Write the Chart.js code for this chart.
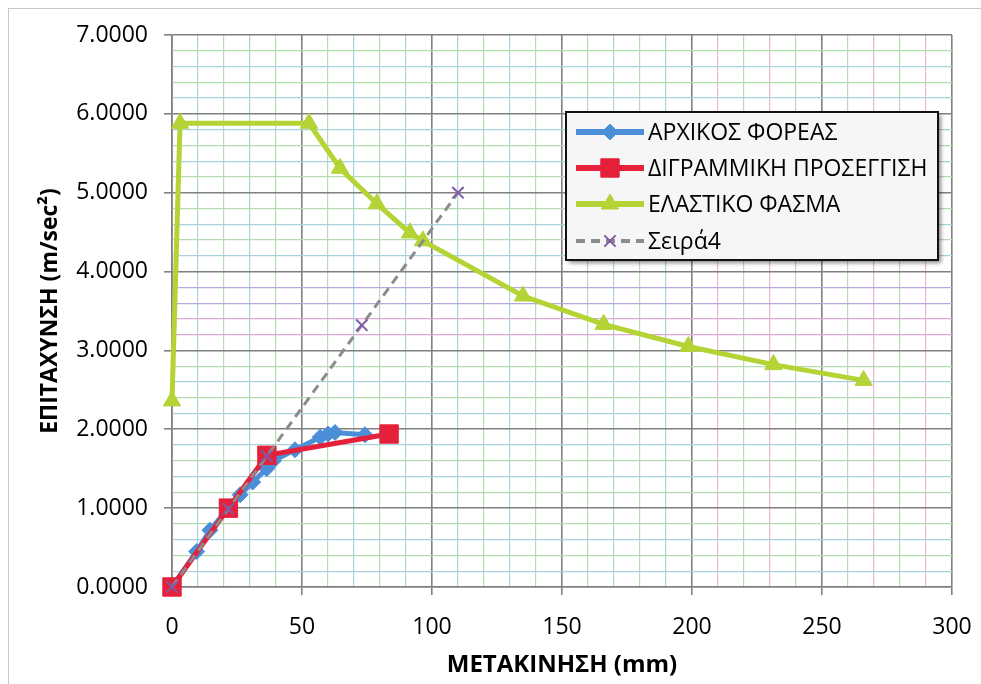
<!DOCTYPE html>
<html>
<head>
<meta charset="utf-8">
<script src="https://cdn.jsdelivr.net/npm/chart.js@4.4.1/dist/chart.umd.min.js"></script>
<style>
  html, body { margin: 0; padding: 0; background: #ffffff; }
  #wrap { position: relative; width: 981px; height: 684px; }
  canvas { display: block; }
</style>
</head>
<body>
<div id="wrap"><canvas id="chart" width="981" height="684"></canvas></div>
<script>
// Series data
const originalX = [0, 9.5, 14.6, 21.7, 26.2, 31, 36.4, 39, 47.3, 57, 60, 62.7, 74.2];
const originalY = [0, 0.45, 0.72, 1.0, 1.17, 1.33, 1.5, 1.6, 1.74, 1.9, 1.94, 1.96, 1.93];

const bilinearX = [0, 21.7, 36.5, 83.5];
const bilinearY = [0, 1.0, 1.67, 1.94];

const elasticX = [0, 3.1, 52.7, 64.6, 78.8, 91.5, 96.5, 135, 166, 198.6, 231.3, 266];
const elasticY = [2.36, 5.88, 5.88, 5.31, 4.86, 4.49, 4.39, 3.69, 3.33, 3.05, 2.82, 2.62];

const series4X = [0, 21.7, 36.5, 73, 110];
const series4Y = [0, 0.99, 1.66, 3.32, 5.0];

const seriesNames = ["ΑΡΧΙΚΟΣ ΦΟΡΕΑΣ", "ΔΙΓΡΑΜΜΙΚΗ ΠΡΟΣΕΓΓΙΣΗ", "ΕΛΑΣΤΙΚΟ ΦΑΣΜΑ", "Σειρά4"];

const xTitle = "ΜΕΤΑΚΙΝΗΣΗ (mm)";
const yTitle = "ΕΠΙΤΑΧΥΝΣΗ (m/sec²)";

const FONT = "'Open Sans', 'Noto Sans', sans-serif";

function toPoints(xs, ys) {
  return xs.map((x, i) => ({ x: x, y: ys[i] }));
}

function isMajorX(v) {
  return Math.abs(v % 50) < 1e-6;
}
function isMajorY(v) {
  return Math.abs(v - Math.round(v)) < 1e-6;
}

// minor grid colours (scanned paper look)
function minorXColor(v) {
  const k = Math.round(v / 10);
  if (v > 200 && v < 300 && k % 2 === 1) return "#e2b8dc";
  return k % 2 === 0 ? "#b9dcb4" : "#a8d3df";
}
function minorYColor(v) {
  const k = Math.round(v * 5);
  if (v > 3.1 && v < 3.5) return "#d9a9d6";
  if (v > 3.5 && v < 3.9) return "#b7a9e0";
  return k % 2 === 0 ? "#b5dbb0" : "#a9d1de";
}

// Legend drawn inside the plot, Excel style
const insideLegend = {
  id: "insideLegend",
  afterDraw(chart) {
    const ctx = chart.ctx;
    const box = { x: 566, y: 112, w: 372, h: 148 };
    ctx.save();
    ctx.shadowColor = "rgba(0,0,0,0.45)";
    ctx.shadowBlur = 4;
    ctx.shadowOffsetX = 3;
    ctx.shadowOffsetY = 3;
    ctx.fillStyle = "#f6f6f6";
    ctx.fillRect(box.x, box.y, box.w, box.h);
    ctx.restore();

    ctx.save();
    ctx.strokeStyle = "#111111";
    ctx.lineWidth = 2;
    ctx.strokeRect(box.x, box.y, box.w, box.h);

    const rows = [132, 168, 204, 241];
    chart.data.datasets.forEach((ds, i) => {
      const y = rows[i];
      ctx.save();
      ctx.strokeStyle = ds.borderColor;
      ctx.lineWidth = ds.borderWidth + 1;
      ctx.setLineDash(ds.borderDash || []);
      ctx.beginPath();
      ctx.moveTo(576, y);
      ctx.lineTo(644, y);
      ctx.stroke();
      ctx.restore();

      ctx.save();
      ctx.fillStyle = ds.pointBackgroundColor;
      ctx.strokeStyle = ds.pointBorderColor;
      ctx.lineWidth = ds.pointBorderWidth;
      Chart.helpers.drawPoint(ctx, {
        pointStyle: ds.pointStyle,
        radius: ds.legendRadius,
        rotation: 0,
        borderWidth: ds.pointBorderWidth
      }, 610, y);
      ctx.restore();

      ctx.fillStyle = "#000000";
      ctx.font = "23px " + FONT;
      ctx.textBaseline = "middle";
      ctx.textAlign = "left";
      ctx.fillText(ds.label, 648, y + 1);
    });
    ctx.restore();
  }
};

// light frame of the chart object
const frame = {
  id: "frame",
  beforeDraw(chart) {
    const ctx = chart.ctx;
    ctx.save();
    ctx.fillStyle = "#ffffff";
    ctx.fillRect(0, 0, chart.width, chart.height);
    ctx.strokeStyle = "#c8c8c8";
    ctx.lineWidth = 1;
    ctx.strokeRect(8.5, 8.5, 1200, 1200);
    ctx.restore();
  }
};

const ctx = document.getElementById("chart").getContext("2d");

new Chart(ctx, {
  type: "scatter",
  data: {
    datasets: [
      {
        label: seriesNames[0],
        data: toPoints(originalX, originalY),
        showLine: true,
        clip: false,
        borderColor: "#4a8fd8",
        borderWidth: 5,
        pointStyle: "rectRot",
        pointRadius: 8,
        legendRadius: 8,
        pointBackgroundColor: "#4a8fd8",
        pointBorderColor: "#4a8fd8",
        pointBorderWidth: 1,
        order: 3
      },
      {
        label: seriesNames[1],
        data: toPoints(bilinearX, bilinearY),
        showLine: true,
        clip: false,
        borderColor: "#e5203a",
        borderWidth: 5,
        pointStyle: "rect",
        pointRadius: 13,
        legendRadius: 13,
        pointBackgroundColor: "#e5203a",
        pointBorderColor: "#e5203a",
        pointBorderWidth: 1,
        order: 1
      },
      {
        label: seriesNames[2],
        data: toPoints(elasticX, elasticY),
        showLine: true,
        clip: false,
        borderColor: "#b4d334",
        borderWidth: 5,
        pointStyle: "triangle",
        pointRadius: 10,
        legendRadius: 10,
        pointBackgroundColor: "#b4d334",
        pointBorderColor: "#b4d334",
        pointBorderWidth: 1,
        order: 2
      },
      {
        label: seriesNames[3],
        data: toPoints(series4X, series4Y),
        showLine: true,
        clip: false,
        borderColor: "#8c8c8c",
        borderWidth: 3,
        borderDash: [9, 6],
        pointStyle: "crossRot",
        pointRadius: 8,
        legendRadius: 8,
        pointBackgroundColor: "#7e5aa8",
        pointBorderColor: "#7e5aa8",
        pointBorderWidth: 2,
        order: 0
      }
    ]
  },
  options: {
    responsive: false,
    animation: false,
    devicePixelRatio: 1,
    layout: { padding: { left: 0, right: 29, top: 35, bottom: 0 } },
    plugins: {
      legend: { display: false },
      tooltip: { enabled: false }
    },
    scales: {
      x: {
        type: "linear",
        min: 0,
        max: 300,
        afterFit: (scale) => {
          scale.height = 97;
          scale.paddingLeft = 0;
          scale.paddingRight = 0;
        },
        ticks: {
          stepSize: 10,
          autoSkip: false,
          maxRotation: 0,
          padding: 19,
          color: "#000000",
          font: { family: FONT, size: 23 },
          callback: (v) => (isMajorX(v) ? String(Math.round(v)) : "")
        },
        grid: {
          drawTicks: true,
          tickLength: 8,
          color: (c) => (isMajorX(c.tick.value) ? "#808080" : minorXColor(c.tick.value)),
          lineWidth: (c) => (isMajorX(c.tick.value) ? 1.6 : 1.2),
          tickColor: (c) => (isMajorX(c.tick.value) ? "#808080" : "rgba(0,0,0,0)")
        },
        border: { color: "#808080", width: 1.6 },
        title: {
          display: true,
          text: xTitle,
          color: "#000000",
          font: { family: FONT, size: 24, weight: "bold" },
          padding: { top: 0, bottom: 4 }
        }
      },
      y: {
        type: "linear",
        min: 0,
        max: 7,
        afterFit: (scale) => {
          scale.width = 172;
          scale.paddingTop = 0;
          scale.paddingBottom = 0;
        },
        ticks: {
          stepSize: 0.2,
          autoSkip: false,
          padding: 16,
          color: "#000000",
          font: { family: FONT, size: 23 },
          callback: (v) => (isMajorY(v) ? Number(v).toFixed(4) : "")
        },
        grid: {
          drawTicks: true,
          tickLength: 8,
          color: (c) => (isMajorY(c.tick.value) ? "#808080" : minorYColor(c.tick.value)),
          lineWidth: (c) => (isMajorY(c.tick.value) ? 1.6 : 1.2),
          tickColor: (c) => (isMajorY(c.tick.value) ? "#808080" : "rgba(0,0,0,0)")
        },
        border: { color: "#808080", width: 1.6 },
        title: {
          display: true,
          text: yTitle,
          color: "#000000",
          font: { family: FONT, size: 23, weight: "bold" },
          padding: { top: 37, bottom: 0 }
        }
      }
    }
  },
  plugins: [frame, insideLegend]
});
</script>
</body>
</html>
